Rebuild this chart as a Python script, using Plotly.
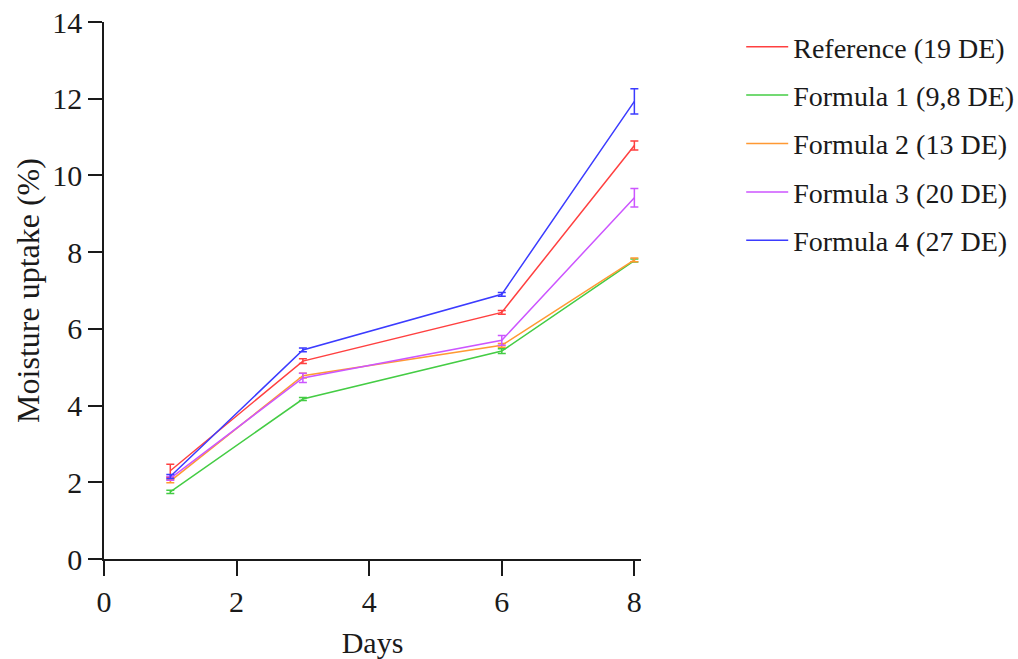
import plotly.graph_objects as go

days = [1, 3, 6, 8]
series_names = ["Reference (19 DE)", "Formula 1 (9,8 DE)", "Formula 2 (13 DE)",
                "Formula 3 (20 DE)", "Formula 4 (27 DE)"]
reference = [2.30, 5.16, 6.43, 10.78]
reference_err = [0.17, 0.06, 0.05, 0.12]
formula1 = [1.75, 4.17, 5.42, 7.78]
formula1_err = [0.04, 0.04, 0.06, 0.04]
formula2 = [2.03, 4.78, 5.57, 7.80]
formula2_err = [0.04, 0.06, 0.05, 0.05]
formula3 = [2.10, 4.72, 5.70, 9.42]
formula3_err = [0.05, 0.12, 0.13, 0.24]
formula4 = [2.15, 5.45, 6.90, 11.93]
formula4_err = [0.05, 0.05, 0.05, 0.33]
colors = ["#ff4040", "#44cc44", "#ff9933", "#cc55ff", "#3b3bff"]

values = [reference, formula1, formula2, formula3, formula4]
errors = [reference_err, formula1_err, formula2_err, formula3_err, formula4_err]

font_family = "Liberation Serif"

fig = go.Figure()
for i, (name, vals, errs, col) in enumerate(zip(series_names, values, errors, colors)):
    fig.add_trace(go.Scatter(
        x=days, y=vals, name=name, mode="lines",
        line=dict(color=col, width=1.5),
        error_y=dict(type="data", array=errs, visible=True, color=col,
                     thickness=1.5, width=4),
        legendgroup=f"g{i}",
    ))

fig.update_layout(
    width=1018, height=659,
    margin=dict(l=104, r=377, t=22, b=100, autoexpand=False),
    plot_bgcolor="white", paper_bgcolor="white",
    font=dict(family=font_family, size=30, color="#1a1a1a"),
    showlegend=True,
    legend=dict(x=1.1866, y=1.0, xanchor="left", yanchor="top",
                font=dict(family=font_family, size=28, color="#1a1a1a"),
                tracegroupgap=9, itemwidth=42, bgcolor="rgba(0,0,0,0)"),
    xaxis=dict(range=[0, 8.1], tickvals=[0, 2, 4, 6, 8], showgrid=False,
               zeroline=False, showline=True, linecolor="#1a1a1a", linewidth=1.5,
               ticks="outside", ticklen=15, tickwidth=1.5, tickcolor="#1a1a1a",
               tickfont=dict(size=30), automargin=False,
               title=dict(text="Days", standoff=18, font=dict(size=30))),
    yaxis=dict(range=[0, 14], tickvals=[0, 2, 4, 6, 8, 10, 12, 14], showgrid=False,
               zeroline=False, showline=True, linecolor="#1a1a1a", linewidth=1.5,
               ticks="outside", ticklen=14, tickwidth=1.5, tickcolor="#1a1a1a",
               tickfont=dict(size=30), automargin=False,
               title=dict(text="Moisture uptake (%)", standoff=3, font=dict(size=32))),
)

fig.write_html("out.html")
